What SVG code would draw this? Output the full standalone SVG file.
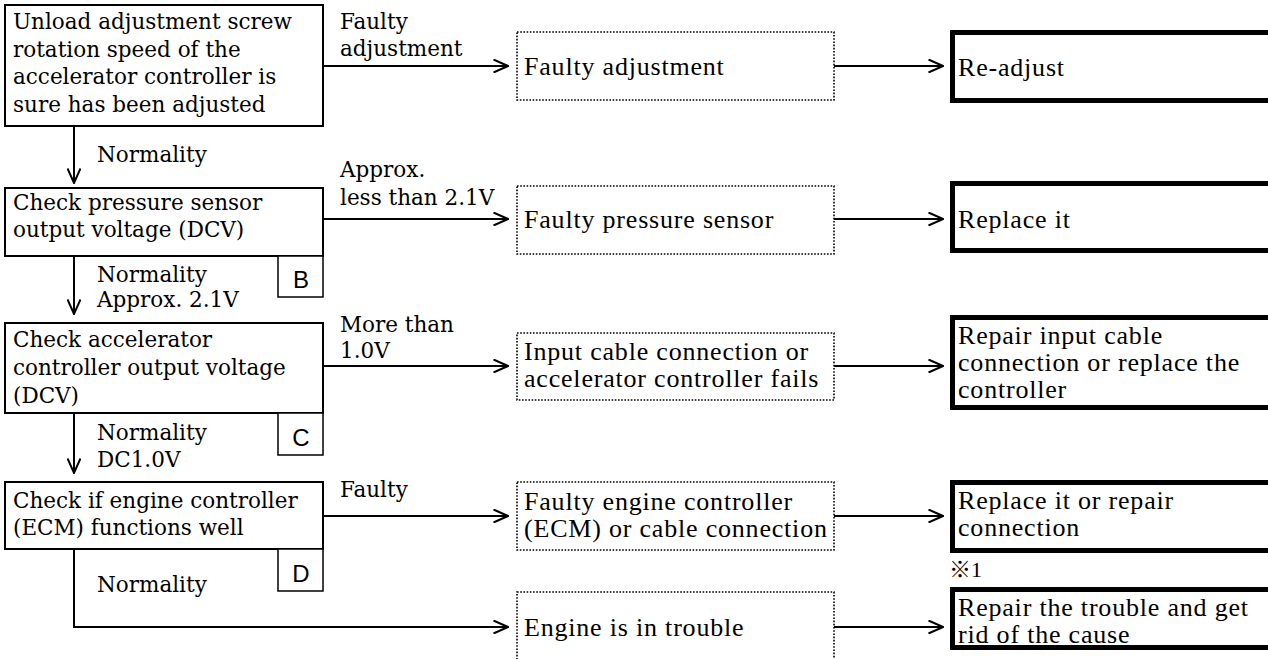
<svg xmlns="http://www.w3.org/2000/svg" width="1268" height="659" viewBox="0 0 1268 659">
<style>
.bg{fill:#fff}
.box{fill:#fff;stroke:#000;stroke-width:2}
.tag{fill:#fff;stroke:#000;stroke-width:1.5}
.dot{fill:#fff;stroke:#000;stroke-width:1.6;stroke-dasharray:1.6 1.6}
.thick{fill:#fff;stroke:#000;stroke-width:5}
.conn{fill:none;stroke:#000;stroke-width:2}
.t{font-family:"DejaVu Serif","Liberation Serif",serif;font-size:21.5px;fill:#000}
.r{font-family:"Liberation Serif","Times New Roman",serif;font-size:26px;letter-spacing:0.8px;fill:#000}
.s{font-family:"Liberation Sans",Arial,sans-serif;font-size:24px;fill:#000;text-anchor:middle}
.m{font-family:"Liberation Serif","Noto Sans CJK JP",serif;font-size:22px;fill:#000}
</style>
<defs>
<marker id="ah" viewBox="0 0 16 14" refX="15" refY="7" markerWidth="16" markerHeight="14" markerUnits="userSpaceOnUse" orient="auto">
<path d="M0.5,0.5 L15,7 L0.5,13.5" fill="none" stroke="#000" stroke-width="2"/>
</marker>
</defs>
<rect class="bg" x="0" y="0" width="1268" height="659"/>

<g id="connectors">
<path class="conn" d="M323,66 H508" marker-end="url(#ah)"/>
<path class="conn" d="M323,219 H508" marker-end="url(#ah)"/>
<path class="conn" d="M323,366 H508" marker-end="url(#ah)"/>
<path class="conn" d="M323,516 H508" marker-end="url(#ah)"/>
<path class="conn" d="M834,66 H943" marker-end="url(#ah)"/>
<path class="conn" d="M834,219 H943" marker-end="url(#ah)"/>
<path class="conn" d="M834,366 H943" marker-end="url(#ah)"/>
<path class="conn" d="M834,516 H943" marker-end="url(#ah)"/>
<path class="conn" d="M834,627 H943" marker-end="url(#ah)"/>
<path class="conn" d="M74,126 V183" marker-end="url(#ah)"/>
<path class="conn" d="M74,256 V314" marker-end="url(#ah)"/>
<path class="conn" d="M74,413 V473" marker-end="url(#ah)"/>
<path class="conn" d="M74,549 V627 H508" marker-end="url(#ah)"/>
<text class="t" x="340" y="29">Faulty</text>
<text class="t" x="340" y="56">adjustment</text>
<text class="t" x="97" y="162">Normality</text>
<text class="t" x="340" y="177">Approx.</text>
<text class="t" x="340" y="205">less than 2.1V</text>
<text class="t" x="97" y="282">Normality</text>
<text class="t" x="97" y="307">Approx. 2.1V</text>
<text class="t" x="340" y="332">More than</text>
<text class="t" x="340" y="358">1.0V</text>
<text class="t" x="97" y="440">Normality</text>
<text class="t" x="97" y="467">DC1.0V</text>
<text class="t" x="340" y="497">Faulty</text>
<text class="t" x="97" y="592">Normality</text>
</g>

<g id="check1">
<rect class="box" x="5" y="5" width="318" height="121"/>
<text class="t" x="13" y="29">Unload adjustment screw</text>
<text class="t" x="13" y="57">rotation speed of the</text>
<text class="t" x="13" y="84">accelerator controller is</text>
<text class="t" x="13" y="112">sure has been adjusted</text>
</g>
<g id="check2">
<rect class="box" x="5" y="188" width="318" height="68"/>
<text class="t" x="13" y="210">Check pressure sensor</text>
<text class="t" x="13" y="237">output voltage (DCV)</text>
</g>
<g id="tagB">
<rect class="tag" x="278" y="256" width="45" height="41"/>
<text class="s" x="301" y="288">B</text>
</g>
<g id="check3">
<rect class="box" x="5" y="323" width="318" height="90"/>
<text class="t" x="13" y="347">Check accelerator</text>
<text class="t" x="13" y="375">controller output voltage</text>
<text class="t" x="13" y="403">(DCV)</text>
</g>
<g id="tagC">
<rect class="tag" x="278" y="413" width="45" height="42"/>
<text class="s" x="301" y="446">C</text>
</g>
<g id="check4">
<rect class="box" x="5" y="482" width="318" height="67"/>
<text class="t" x="13" y="508">Check if engine controller</text>
<text class="t" x="13" y="535">(ECM) functions well</text>
</g>
<g id="tagD">
<rect class="tag" x="278" y="549" width="45" height="42"/>
<text class="s" x="301" y="582">D</text>
</g>

<g id="cause1">
<rect class="dot" x="517" y="32" width="317" height="68"/>
<text class="r" x="524" y="75">Faulty adjustment</text>
</g>
<g id="cause2">
<rect class="dot" x="517" y="186" width="317" height="68"/>
<text class="r" x="524" y="228">Faulty pressure sensor</text>
</g>
<g id="cause3">
<rect class="dot" x="517" y="333" width="317" height="67"/>
<text class="r" x="524" y="360">Input cable connection or</text>
<text class="r" x="524" y="387">accelerator controller fails</text>
</g>
<g id="cause4">
<rect class="dot" x="517" y="482" width="317" height="68"/>
<text class="r" x="524" y="510">Faulty engine controller</text>
<text class="r" x="524" y="537">(ECM) or cable connection</text>
</g>
<g id="cause5">
<rect class="dot" x="517" y="592" width="317" height="80"/>
<text class="r" x="524" y="636">Engine is in trouble</text>
</g>

<g id="action1">
<rect class="thick" x="952.5" y="32.5" width="318" height="68"/>
<text class="r" x="958" y="76">Re-adjust</text>
</g>
<g id="action2">
<rect class="thick" x="952.5" y="183.5" width="318" height="67"/>
<text class="r" x="958" y="228">Replace it</text>
</g>
<g id="action3">
<rect class="thick" x="952.5" y="317.5" width="318" height="90"/>
<text class="r" x="958" y="344">Repair input cable</text>
<text class="r" x="958" y="371">connection or replace the</text>
<text class="r" x="958" y="398">controller</text>
</g>
<g id="action4">
<rect class="thick" x="952.5" y="482.5" width="318" height="68"/>
<text class="r" x="958" y="509">Replace it or repair</text>
<text class="r" x="958" y="536">connection</text>
</g>
<g id="note">
<text class="m" x="949" y="577">※1</text>
</g>
<g id="action5">
<rect class="thick" x="952.5" y="589.5" width="318" height="58"/>
<text class="r" x="958" y="616">Repair the trouble and get</text>
<text class="r" x="958" y="643">rid of the cause</text>
</g>
</svg>
